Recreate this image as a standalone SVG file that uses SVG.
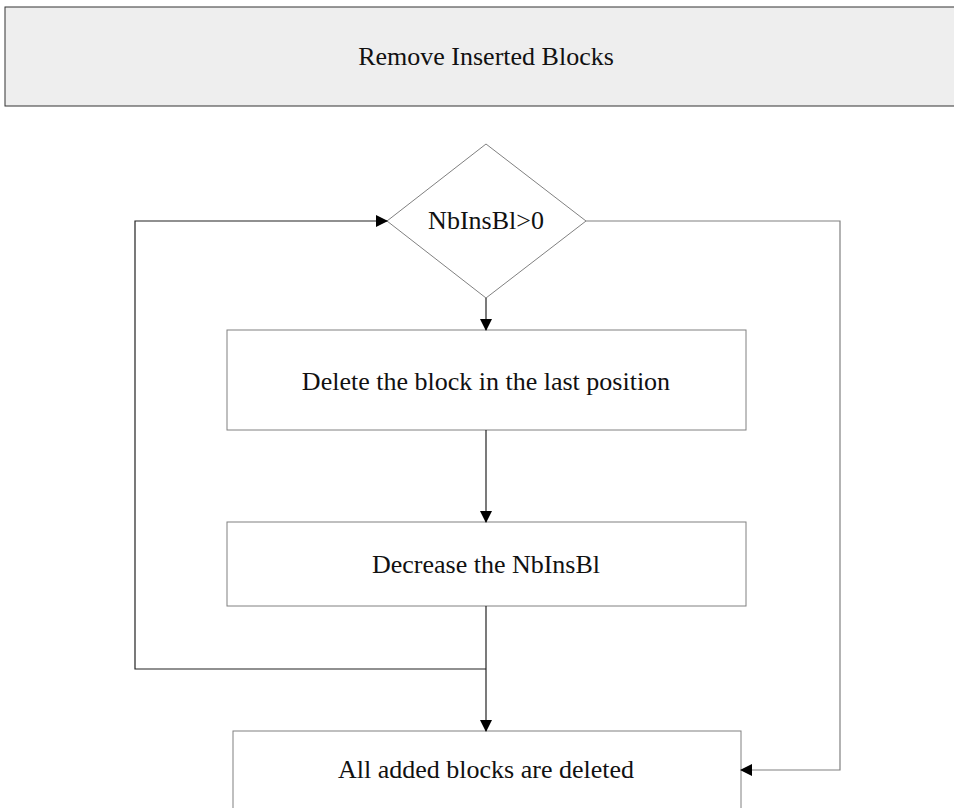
<svg xmlns="http://www.w3.org/2000/svg" width="954" height="808" viewBox="0 0 954 808">
<defs>
<style>
.box{fill:#ffffff;stroke:#808080;stroke-width:1}
.t{font-family:"Liberation Serif","Times New Roman",serif;font-size:26px;fill:#111;text-anchor:middle;dominant-baseline:central}
.c{fill:none;stroke:#222;stroke-width:1.2}
.g{fill:none;stroke:#808080;stroke-width:1.2}
</style>
<marker id="ah" markerWidth="12" markerHeight="12" refX="11" refY="6" orient="auto" markerUnits="userSpaceOnUse">
<path d="M0,0 L12,6 L0,12 Z" fill="#000"/>
</marker>
</defs>
<rect width="954" height="808" fill="#ffffff"/>
<g id="header">
<rect x="5" y="7" width="960" height="99" fill="#eeeeee" stroke="#333" stroke-width="1"/>
<text class="t" x="486" y="56">Remove Inserted Blocks</text>
</g>
<g id="decision">
<polygon points="486,144 586,221 486,298 387,221" class="box"/>
<text class="t" x="486" y="220">NbInsBl&gt;0</text>
</g>
<g id="delete">
<rect x="227" y="330" width="519" height="100" class="box"/>
<text class="t" x="486" y="381">Delete the block in the last position</text>
</g>
<g id="decrease">
<rect x="227" y="522" width="519" height="84" class="box"/>
<text class="t" x="486" y="564">Decrease the NbInsBl</text>
</g>
<g id="done">
<rect x="233" y="731" width="508" height="100" class="box"/>
<text class="t" x="486" y="769">All added blocks are deleted</text>
</g>
<g id="connectors">
<path class="c" d="M486,298 V330" marker-end="url(#ah)"/>
<path class="c" d="M486,430 V522" marker-end="url(#ah)"/>
<path class="c" d="M486,606 V731" marker-end="url(#ah)"/>
<path class="c" d="M486,669 H135 V221 H387" marker-end="url(#ah)"/>
<path class="g" d="M586,221 H840 V770 H741" marker-end="url(#ah)"/>
</g>
</svg>
